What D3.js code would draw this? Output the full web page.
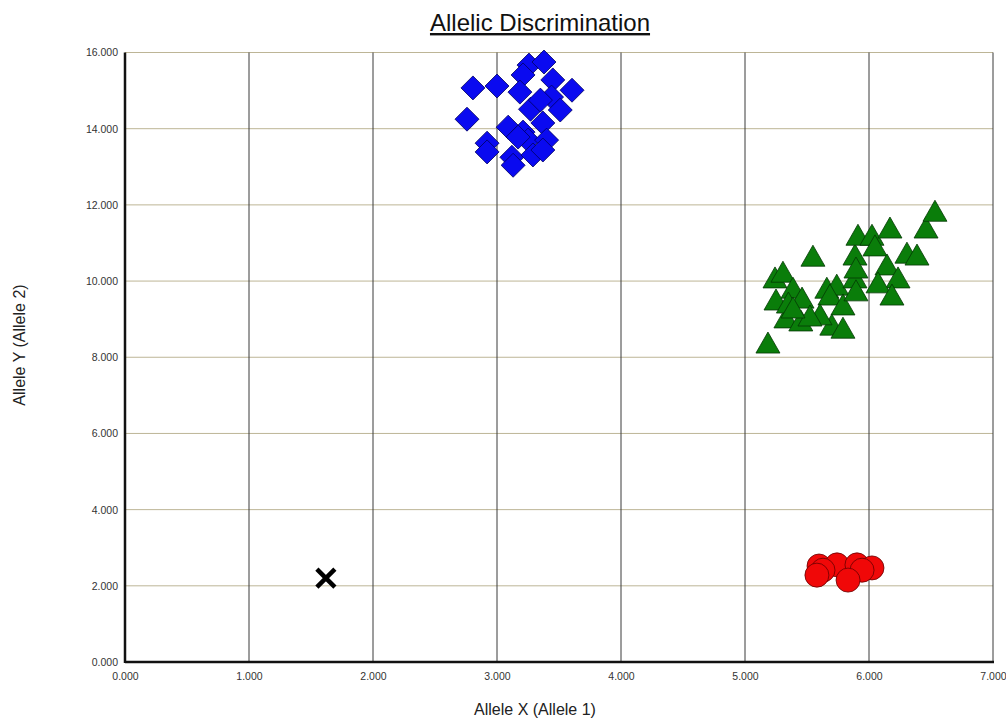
<!DOCTYPE html>
<html><head><meta charset="utf-8">
<script src="https://cdn.jsdelivr.net/npm/d3@7"></script>
<style>html,body{margin:0;padding:0;background:#fff;}svg{display:block;font-family:"Liberation Sans",Arial,sans-serif;}</style>
</head><body>
<svg id="c" width="1006" height="721"></svg>
<script>
const xTicks = [0,1,2,3,4,5,6,7];
const yTicks = [0,2,4,6,8,10,12,14,16];
const blueX = [2.806,3.0,2.758,3.258,3.379,3.21,3.185,3.45,3.605,3.44,3.51,3.27,3.09,3.21,3.37,2.92,2.92,3.12,3.13,3.25,3.40,3.29,3.37,3.17,3.35];
const blueY = [15.07,15.12,14.25,15.67,15.75,15.41,14.96,15.28,15.01,14.83,14.49,14.51,14.04,13.91,14.15,13.62,13.39,13.25,13.04,13.70,13.70,13.31,13.44,13.78,14.75];
const greenX = [5.185,5.242,5.306,5.25,5.387,5.33,5.45,5.548,5.66,5.74,5.685,5.79,5.70,5.79,5.887,5.887,5.911,6.024,6.048,6.169,6.306,6.387,6.145,6.234,6.073,6.185,6.46,6.532,5.46,5.605,5.35,5.895,5.895,5.524,5.387];
const greenY = [8.32,10.03,10.18,9.45,9.76,8.98,8.90,10.60,9.76,9.84,9.58,9.32,8.79,8.71,10.03,10.63,11.15,11.15,10.87,11.34,10.68,10.63,10.37,10.03,9.90,9.58,11.34,11.78,9.50,9.06,9.37,10.29,9.69,9.03,9.24];
const redX = [5.597,5.742,5.903,6.024,5.944,5.629,5.58,5.831];
const redY = [2.52,2.55,2.55,2.47,2.41,2.41,2.28,2.15];
const ndX = [1.62];
const ndY = [2.2];

const svg = d3.select("#c");
const L=125, R=993, T=52.5, B=662;
const x = d3.scaleLinear().domain([0,7]).range([L,R]);
const y = d3.scaleLinear().domain([0,16]).range([B,T]);
const fmt = d3.format(".3f");

// horizontal gridlines
svg.append("g").selectAll("line").data(yTicks.filter(d=>d>0)).join("line")
  .attr("x1",L).attr("x2",R).attr("y1",d=>y(d)).attr("y2",d=>y(d))
  .attr("stroke","#bdb596").attr("stroke-width",1);
// vertical gridlines
svg.append("g").selectAll("line").data(xTicks.filter(d=>d>0)).join("line")
  .attr("x1",d=>x(d)).attr("x2",d=>x(d)).attr("y1",T).attr("y2",B)
  .attr("stroke","#3a3a3a").attr("stroke-width",1);

// axes
const xa = d3.axisBottom(x).tickValues(xTicks).tickFormat(fmt).tickSize(0).tickPadding(11);
const gx = svg.append("g").attr("transform",`translate(0,${B})`).call(xa);
gx.select(".domain").remove();
gx.selectAll("text").attr("font-size",10.5).attr("fill","#333").attr("font-family","Liberation Sans, Arial, sans-serif");
const ya = d3.axisLeft(y).tickValues(yTicks).tickFormat(fmt).tickSize(0).tickPadding(7);
const gy = svg.append("g").attr("transform",`translate(${L},0)`).call(ya);
gy.select(".domain").remove();
gy.selectAll("text").attr("font-size",10.5).attr("fill","#333").attr("font-family","Liberation Sans, Arial, sans-serif");

svg.append("line").attr("x1",L).attr("x2",R+1).attr("y1",B).attr("y2",B).attr("stroke","#111").attr("stroke-width",2.5);
svg.append("line").attr("x1",L).attr("x2",L).attr("y1",T).attr("y2",B+1).attr("stroke","#111").attr("stroke-width",2.5);

// markers
const diamond = "M0,-12L12,0L0,12L-12,0Z";
svg.append("g").selectAll("path").data(blueX.map((v,i)=>[v,blueY[i]])).join("path")
  .attr("d",diamond).attr("transform",d=>`translate(${x(d[0])},${y(d[1])})`)
  .attr("fill","#0a0af0").attr("stroke","#000060").attr("stroke-width",0.8);
const tri = "M0,-13L12,8L-12,8Z";
svg.append("g").selectAll("path").data(greenX.map((v,i)=>[v,greenY[i]])).join("path")
  .attr("d",tri).attr("transform",d=>`translate(${x(d[0])},${y(d[1])})`)
  .attr("fill","#0a7d0a").attr("stroke","#043804").attr("stroke-width",0.8);
svg.append("g").selectAll("circle").data(redX.map((v,i)=>[v,redY[i]])).join("circle")
  .attr("cx",d=>x(d[0])).attr("cy",d=>y(d[1])).attr("r",12)
  .attr("fill","#f00808").attr("stroke","#600").attr("stroke-width",0.8);
const cross = svg.append("g").selectAll("g").data(ndX.map((v,i)=>[v,ndY[i]])).join("g")
  .attr("transform",d=>`translate(${x(d[0])},${y(d[1])})`);
cross.append("path").attr("d","M-9,-9L9,9M9,-9L-9,9").attr("stroke","#000").attr("stroke-width",4.5).attr("fill","none");

// title
svg.append("text").attr("x",540).attr("y",31).attr("text-anchor","middle").attr("font-size",24)
  .attr("text-decoration","underline").attr("fill","#111").text("Allelic Discrimination");
svg.append("text").attr("x",535).attr("y",715).attr("text-anchor","middle").attr("font-size",16).attr("fill","#222").text("Allele X (Allele 1)");
svg.append("text").attr("transform","translate(25,345) rotate(-90)").attr("text-anchor","middle").attr("font-size",16).attr("fill","#222").text("Allele Y (Allele 2)");
</script>
</body></html>
